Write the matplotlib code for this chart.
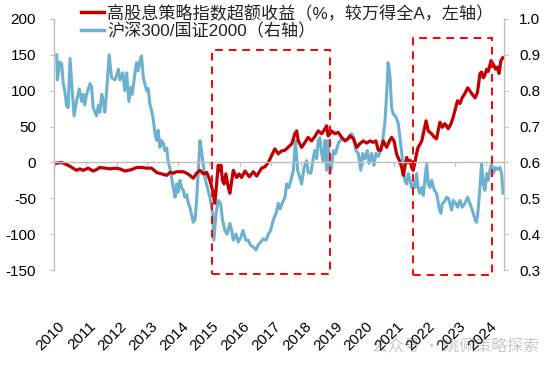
import matplotlib
matplotlib.use("Agg")
import matplotlib.pyplot as plt
import matplotlib.transforms as mtransforms
from matplotlib.patches import Rectangle
from matplotlib.lines import Line2D

plt.rcParams['font.family'] = ['Liberation Sans', 'Noto Sans CJK SC', 'DejaVu Sans']

# ---------------- data (decimal years) ----------------
red_t = [2010.06, 2010.22, 2010.32, 2010.43, 2010.59, 2010.70, 2010.81, 2010.92, 2011.08, 2011.24,
         2011.35, 2011.46, 2011.62, 2011.79, 2011.95, 2012.11, 2012.27, 2012.49, 2012.65, 2012.81,
         2012.98, 2013.14, 2013.30, 2013.46, 2013.63, 2013.73, 2013.84, 2013.95, 2014.06, 2014.17,
         2014.28, 2014.38, 2014.49, 2014.60, 2014.71, 2014.82, 2014.93, 2015.03, 2015.12, 2015.19,
         2015.25, 2015.30, 2015.36, 2015.39, 2015.44, 2015.49, 2015.55, 2015.63, 2015.68, 2015.74,
         2015.79, 2015.90, 2015.98, 2016.06, 2016.17, 2016.31, 2016.44, 2016.55, 2016.71, 2016.82,
         2016.93, 2017.04, 2017.14, 2017.25, 2017.36, 2017.47, 2017.57, 2017.69, 2017.79, 2017.85,
         2017.90, 2018.01, 2018.12, 2018.22, 2018.33, 2018.44, 2018.49, 2018.55, 2018.66, 2018.77,
         2018.82, 2018.87, 2018.93, 2018.98, 2019.09, 2019.20, 2019.31, 2019.42, 2019.52, 2019.58,
         2019.69, 2019.80, 2019.90, 2020.01, 2020.12, 2020.23, 2020.33, 2020.42, 2020.50, 2020.58,
         2020.66, 2020.77, 2020.86, 2020.93, 2021.01, 2021.09, 2021.18, 2021.26, 2021.31, 2021.36,
         2021.42, 2021.47, 2021.53, 2021.58, 2021.63, 2021.69, 2021.74, 2021.79, 2021.85, 2021.91,
         2021.96, 2022.05, 2022.12, 2022.23, 2022.32, 2022.39, 2022.44, 2022.50, 2022.58, 2022.66,
         2022.77, 2022.86, 2022.93, 2023.01, 2023.07, 2023.15, 2023.22, 2023.31, 2023.40, 2023.47,
         2023.55, 2023.64, 2023.72, 2023.80, 2023.85, 2023.91, 2023.96, 2024.02, 2024.07, 2024.16,
         2024.23, 2024.31, 2024.37, 2024.42, 2024.48, 2024.54]
red_excess = [-1, 0, -2, -4, -8, -11, -9, -11, -8, -12,
              -10, -7, -8, -9, -8, -9, -12, -10, -7, -7,
              -8, -8, -14, -16, -18, -14, -15, -13, -13, -13,
              -15, -18, -22, -15, -11, -16, -14, -25, -39, -57,
              -30, -4, -12, -4, -25, -30, -16, -35, -43, -25,
              -11, -21, -16, -21, -12, -20, -13, -19, -8, -6,
              0, 10, 19, 12, 16, 17, 21, 26, 40, 44,
              30, 21, 28, 35, 30, 36, 40, 44, 40, 47,
              51, 37, 40, 44, 40, 42, 35, 30, 33, 37,
              33, 21, 26, 30, 27, 30, 28, 30, 17, 17,
              30, 21, 30, 35, 30, 12, 3, -7, -18, -7,
              7, 0, 3, -7, -11, 0, 12, 21, 25, 30,
              40, 58, 44, 40, 35, 33, 44, 56, 49, 54,
              47, 54, 63, 76, 86, 82, 90, 96, 104, 100,
              95, 90, 98, 124, 126, 118, 122, 130, 127, 142,
              137, 130, 133, 124, 142, 146]

blue_t = [2010.06, 2010.08, 2010.16, 2010.22, 2010.27, 2010.32, 2010.38, 2010.43, 2010.49, 2010.54,
          2010.62, 2010.70, 2010.79, 2010.87, 2010.92, 2010.97, 2011.03, 2011.14, 2011.19, 2011.24,
          2011.35, 2011.41, 2011.46, 2011.52, 2011.57, 2011.62, 2011.68, 2011.76, 2011.84, 2011.95,
          2012.06, 2012.11, 2012.20, 2012.27, 2012.33, 2012.40, 2012.47, 2012.51, 2012.60, 2012.65,
          2012.70, 2012.76, 2012.81, 2012.87, 2012.92, 2012.98, 2013.03, 2013.08, 2013.14, 2013.19,
          2013.25, 2013.30, 2013.35, 2013.41, 2013.46, 2013.52, 2013.57, 2013.63, 2013.68, 2013.73,
          2013.79, 2013.84, 2013.90, 2013.95, 2014.00, 2014.06, 2014.11, 2014.17, 2014.22, 2014.28,
          2014.33, 2014.38, 2014.44, 2014.49, 2014.55, 2014.60, 2014.65, 2014.71, 2014.76, 2014.81,
          2014.87, 2014.92, 2015.03, 2015.12, 2015.16, 2015.23, 2015.30, 2015.38, 2015.44, 2015.52,
          2015.59, 2015.68, 2015.74, 2015.79, 2015.88, 2015.95, 2016.03, 2016.11, 2016.20, 2016.28,
          2016.35, 2016.44, 2016.53, 2016.60, 2016.68, 2016.76, 2016.85, 2016.93, 2017.00, 2017.09,
          2017.18, 2017.25, 2017.31, 2017.38, 2017.47, 2017.52, 2017.60, 2017.66, 2017.74, 2017.81,
          2017.88, 2017.95, 2018.01, 2018.09, 2018.17, 2018.22, 2018.31, 2018.39, 2018.44, 2018.50,
          2018.55, 2018.60, 2018.66, 2018.71, 2018.77, 2018.82, 2018.87, 2018.93, 2018.98, 2019.04,
          2019.11, 2019.20, 2019.31, 2019.42, 2019.52, 2019.63, 2019.70, 2019.77, 2019.85, 2019.93,
          2019.99, 2020.06, 2020.14, 2020.20, 2020.28, 2020.36, 2020.42, 2020.50, 2020.57, 2020.64,
          2020.71, 2020.77, 2020.82, 2020.88, 2020.93, 2020.98, 2021.07, 2021.15, 2021.20, 2021.26,
          2021.31, 2021.36, 2021.42, 2021.47, 2021.53, 2021.58, 2021.63, 2021.69, 2021.74, 2021.79,
          2021.85, 2021.91, 2021.96, 2022.01, 2022.07, 2022.12, 2022.18, 2022.23, 2022.32, 2022.39,
          2022.47, 2022.53, 2022.58, 2022.64, 2022.72, 2022.77, 2022.82, 2022.88, 2022.93, 2023.01,
          2023.07, 2023.15, 2023.22, 2023.31, 2023.40, 2023.47, 2023.55, 2023.64, 2023.69, 2023.74,
          2023.80, 2023.85, 2023.91, 2023.96, 2024.02, 2024.07, 2024.12, 2024.18, 2024.23, 2024.31,
          2024.37, 2024.45, 2024.50, 2024.55]
blue_ratio = [0.900, 0.830, 0.880, 0.875, 0.820, 0.800, 0.758, 0.753, 0.890, 0.830,
              0.730, 0.770, 0.805, 0.770, 0.790, 0.760, 0.790, 0.820, 0.810, 0.753,
              0.730, 0.760, 0.740, 0.790, 0.770, 0.740, 0.800, 0.900, 0.836, 0.830,
              0.860, 0.830, 0.850, 0.800, 0.850, 0.770, 0.810, 0.790, 0.850, 0.878,
              0.856, 0.883, 0.897, 0.836, 0.820, 0.800, 0.806, 0.764, 0.744, 0.722,
              0.680, 0.661, 0.690, 0.642, 0.661, 0.653, 0.633, 0.640, 0.600, 0.586,
              0.558, 0.530, 0.503, 0.540, 0.517, 0.550, 0.530, 0.522, 0.503, 0.510,
              0.486, 0.475, 0.453, 0.433, 0.440, 0.494, 0.569, 0.661, 0.633, 0.597,
              0.558, 0.540, 0.503, 0.458, 0.383, 0.458, 0.494, 0.486, 0.440, 0.410,
              0.400, 0.430, 0.410, 0.383, 0.400, 0.378, 0.390, 0.410, 0.383, 0.383,
              0.369, 0.364, 0.356, 0.370, 0.378, 0.387, 0.383, 0.400, 0.410, 0.440,
              0.458, 0.486, 0.470, 0.486, 0.503, 0.540, 0.530, 0.550, 0.578, 0.661,
              0.578, 0.558, 0.540, 0.586, 0.605, 0.572, 0.570, 0.614, 0.633, 0.610,
              0.661, 0.669, 0.625, 0.605, 0.661, 0.578, 0.661, 0.569, 0.586, 0.633,
              0.625, 0.653, 0.667, 0.661, 0.669, 0.680, 0.670, 0.633, 0.625, 0.578,
              0.625, 0.610, 0.633, 0.597, 0.625, 0.592, 0.625, 0.617, 0.633, 0.661,
              0.708, 0.790, 0.878, 0.840, 0.753, 0.736, 0.727, 0.708, 0.670, 0.625,
              0.586, 0.550, 0.540, 0.569, 0.550, 0.530, 0.540, 0.530, 0.569, 0.530,
              0.514, 0.530, 0.508, 0.550, 0.597, 0.540, 0.530, 0.550, 0.522, 0.514,
              0.475, 0.458, 0.486, 0.490, 0.503, 0.500, 0.486, 0.467, 0.494, 0.486,
              0.475, 0.494, 0.475, 0.486, 0.503, 0.486, 0.467, 0.440, 0.433, 0.467,
              0.530, 0.597, 0.540, 0.522, 0.569, 0.550, 0.578, 0.597, 0.569, 0.586,
              0.580, 0.586, 0.569, 0.514]

year_ticks = list(range(2010, 2025))
year_labels = [str(y) for y in year_ticks]
left_ticks = [-150, -100, -50, 0, 50, 100, 150, 200]
right_ticks = [0.3, 0.4, 0.5, 0.6, 0.7, 0.8, 0.9, 1.0]

red_label = "高股息策略指数超额收益（%，较万得全A，左轴）"
blue_label = "沪深300/国证2000（右轴）"

RED = "#C00000"
BLUE = "#6DB1D0"
GRID = "#BFBFBF"

# ---------------- figure ----------------
fig = plt.figure(figsize=(5.5, 3.67), dpi=100)
ax = fig.add_axes([54 / 550, 1 - 270 / 367, (504 - 54) / 550, (270 - 19) / 367])
ax2 = ax.twinx()
ax.set_zorder(ax2.get_zorder() + 1)
ax.patch.set_visible(False)

ax2.plot(blue_t, blue_ratio, color=BLUE, lw=2.2, solid_joinstyle='round')
ax.plot(red_t, red_excess, color=RED, lw=2.3, solid_joinstyle='round')

ax.set_xlim(2009.97, 2024.58)
ax.set_ylim(-150, 200)
ax2.set_ylim(0.3, 1.0)

# dashed highlight boxes (left-axis units)
for (x0, x1, y0, y1) in [(2015.10, 2018.93, -155, 157), (2021.62, 2024.19, -157, 173)]:
    ax.add_patch(Rectangle((x0, y0), x1 - x0, y1 - y0, fill=False, ec="#FF0000",
                           lw=1.4, ls=(0, (4, 3)), clip_on=False, zorder=5))

# spines
for s in ['top', 'right']:
    ax.spines[s].set_visible(False)
for s in ['top', 'left', 'bottom']:
    ax2.spines[s].set_visible(False)
ax.spines['left'].set_color(GRID)
ax.spines['bottom'].set_color(GRID)
ax.spines['bottom'].set_position(('data', 0))
ax2.spines['right'].set_color(GRID)
for s in ['left', 'bottom']:
    ax.spines[s].set_linewidth(1.0)
ax2.spines['right'].set_linewidth(1.0)

ax.set_yticks(left_ticks)
ax.set_yticklabels([str(v) for v in left_ticks])
ax2.set_yticks(right_ticks)
ax2.set_yticklabels([f"{v:.1f}" for v in right_ticks])
ax.set_xticks(year_ticks)
ax.set_xticklabels(year_labels)

ax.tick_params(axis='y', direction='out', length=3, color=GRID, labelsize=11, pad=10, labelcolor='black')
ax2.tick_params(axis='y', direction='out', length=3, color=GRID, labelsize=11, pad=8, labelcolor='black')
ax.tick_params(axis='x', direction='out', length=3, color=GRID, labelsize=11, pad=110, labelcolor='black')
ax2.tick_params(axis='x', bottom=False, labelbottom=False)

offset = mtransforms.ScaledTranslation(3 / 100, 0, fig.dpi_scale_trans)
for lab in ax.get_xticklabels():
    lab.set_rotation(45)
    lab.set_ha('right')
    lab.set_va('top')
    lab.set_rotation_mode('anchor')
    lab.set_transform(lab.get_transform() + offset)

# legend
handles = [Line2D([], [], color=RED, lw=2.5), Line2D([], [], color=BLUE, lw=2.5)]
fig.legend(handles, [red_label, blue_label], loc='upper left',
           bbox_to_anchor=(81 / 550, 1 - 4 / 367), frameon=False,
           prop={'family': ['Liberation Sans', 'Noto Sans CJK SC'], 'size': 12.3},
           handlelength=1.35, handletextpad=0.2, labelspacing=0.12, borderpad=0.0,
           borderaxespad=0.0, labelcolor='#222222')

# watermark
fig.text(372 / 550, 1 - 346 / 367, "公众号 · 姚佩策略探索", color="#C8C8C8", fontsize=11.5,
         family=['Noto Sans CJK SC', 'DejaVu Sans'], va='center', ha='left', zorder=0)

fig.savefig("out.png", dpi=100)
